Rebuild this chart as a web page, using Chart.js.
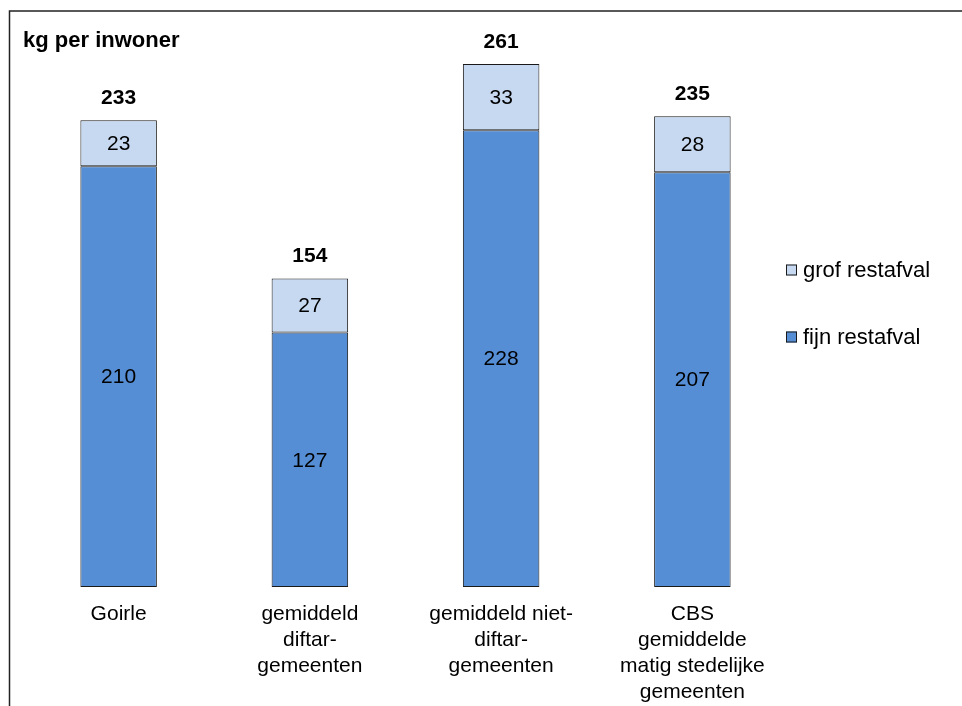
<!DOCTYPE html>
<html>
<head>
<meta charset="utf-8">
<script src="https://cdn.jsdelivr.net/npm/chart.js@4.4.0/dist/chart.umd.min.js"></script>
<style>
  html, body { margin: 0; padding: 0; background: #ffffff; overflow: hidden; }
  #clip { position: relative; width: 962px; height: 706px; overflow: hidden; }
  #wrap { position: absolute; left: 0; top: 0; width: 962px; height: 719px; }
</style>
</head>
<body>
<div id="clip"><div id="wrap"><canvas id="c"></canvas></div></div>
<script>
const categories = [
  ['Goirle'],
  ['gemiddeld', 'diftar-', 'gemeenten'],
  ['gemiddeld niet-', 'diftar-', 'gemeenten'],
  ['CBS', 'gemiddelde', 'matig stedelijke', 'gemeenten']
];
const fijnRestafval = [210, 127, 228, 207];
const grofRestafval = [23, 27, 33, 28];
const totals = [233, 154, 261, 235];
const seriesNames = ['fijn restafval', 'grof restafval'];
const yAxisTitle = 'kg per inwoner';

const FONT = "'Liberation Sans', Arial, sans-serif";
const darkBlue = '#558ED5';
const lightBlue = '#C6D9F1';
const edge = '#1a1a1a';

const decorPlugin = {
  id: 'decor',
  afterDraw(chart) {
    const ctx = chart.ctx;
    ctx.save();
    // frame
    ctx.strokeStyle = '#222222';
    ctx.lineWidth = 1.5;
    ctx.beginPath();
    ctx.moveTo(962, 11);
    ctx.lineTo(9.5, 11);
    ctx.lineTo(9.5, 730);
    ctx.stroke();

    // title
    ctx.fillStyle = '#000000';
    ctx.font = 'bold 22px ' + FONT;
    ctx.textBaseline = 'middle';
    ctx.textAlign = 'left';
    ctx.fillText(yAxisTitle, 23, 41);

    // value labels
    ctx.textAlign = 'center';
    ctx.font = '21px ' + FONT;
    chart.data.datasets.forEach((ds, di) => {
      const meta = chart.getDatasetMeta(di);
      meta.data.forEach((bar, i) => {
        const yc = (bar.y + bar.base) / 2 + 1;
        ctx.fillText(String(ds.data[i]), bar.x, yc);
      });
    });
    // totals
    ctx.font = 'bold 21px ' + FONT;
    const topMeta = chart.getDatasetMeta(chart.data.datasets.length - 1);
    topMeta.data.forEach((bar, i) => {
      ctx.fillText(String(totals[i]), bar.x, bar.y - 22);
    });

    // legend (top series first)
    const items = [
      { label: chart.data.datasets[1].label, color: chart.data.datasets[1].backgroundColor, y: 270 },
      { label: chart.data.datasets[0].label, color: chart.data.datasets[0].backgroundColor, y: 337 }
    ];
    ctx.font = '22px ' + FONT;
    ctx.textAlign = 'left';
    items.forEach(it => {
      ctx.fillStyle = it.color;
      ctx.fillRect(786, it.y - 5.5, 11, 11);
      ctx.strokeStyle = edge;
      ctx.lineWidth = 1;
      ctx.strokeRect(786.5, it.y - 5, 10, 10);
      ctx.fillStyle = '#000000';
      ctx.fillText(it.label, 803, it.y + 1);
    });
    ctx.restore();
  }
};

new Chart(document.getElementById('c'), {
  type: 'bar',
  data: {
    labels: categories,
    datasets: [
      { label: seriesNames[0], data: fijnRestafval, backgroundColor: darkBlue, borderColor: edge, borderWidth: 1, borderSkipped: false },
      { label: seriesNames[1], data: grofRestafval, backgroundColor: lightBlue, borderColor: edge, borderWidth: 1, borderSkipped: false }
    ]
  },
  options: {
    responsive: true,
    maintainAspectRatio: false,
    animation: false,
    devicePixelRatio: 1,
    layout: { padding: { top: 26, left: 23, right: 174, bottom: 0 } },
    datasets: { bar: { barPercentage: 0.4, categoryPercentage: 1.0 } },
    plugins: { legend: { display: false }, tooltip: { enabled: false }, title: { display: false } },
    scales: {
      x: {
        stacked: true,
        grid: { display: false, drawTicks: false },
        border: { display: false },
        ticks: {
          color: '#000000',
          padding: 14,
          autoSkip: false,
          maxRotation: 0,
          font: { family: FONT, size: 21, lineHeight: 26 / 21 }
        }
      },
      y: {
        stacked: true,
        display: false,
        min: 0,
        max: 280
      }
    }
  },
  plugins: [decorPlugin]
});
</script>
</body>
</html>
